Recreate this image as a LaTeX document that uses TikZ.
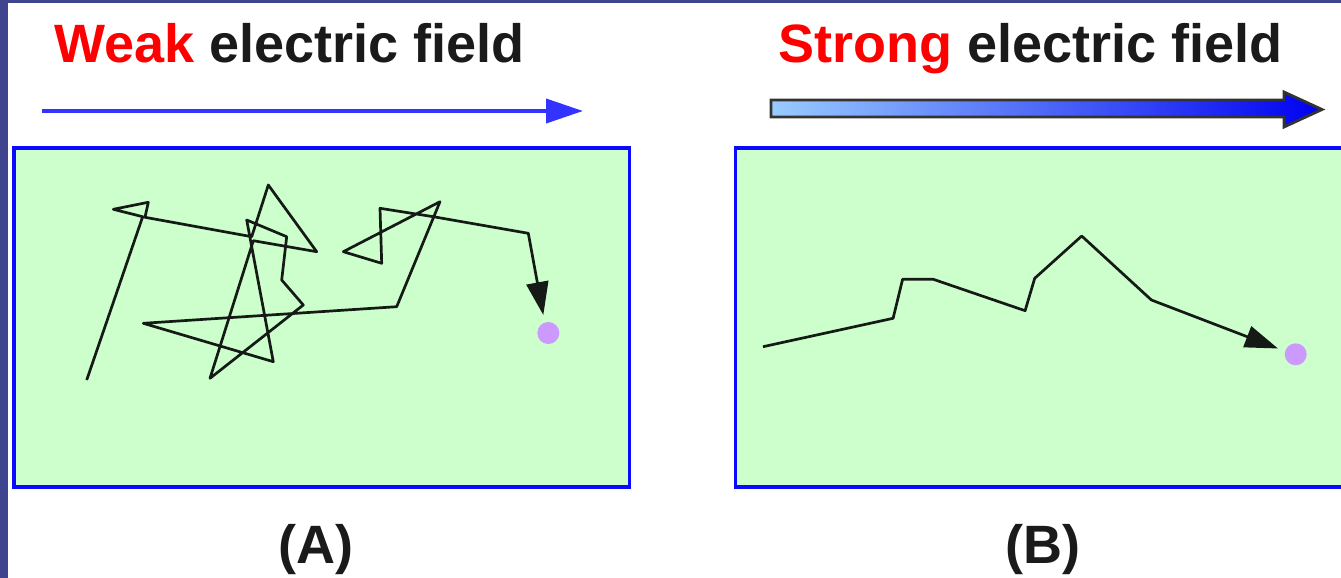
\documentclass[tikz,border=0pt]{standalone}
\usepackage{fontspec}
\setmainfont{Liberation Sans}
\usetikzlibrary{arrows.meta}

\definecolor{framecol}{RGB}{63,68,143}
\definecolor{panelfill}{RGB}{204,255,204}
\definecolor{panelline}{RGB}{10,10,255}
\definecolor{fieldblue}{RGB}{51,51,255}
\definecolor{walkcol}{RGB}{22,26,22}
\definecolor{ioncol}{RGB}{204,153,255}
\definecolor{lightfield}{RGB}{153,204,255}
\definecolor{midfield}{RGB}{85,115,255}
\definecolor{deepfield}{RGB}{0,0,240}
\definecolor{hot}{RGB}{255,0,0}
\definecolor{ink}{RGB}{26,26,26}

\begin{document}
\begin{tikzpicture}[x=1pt,y=-1pt,
  panel/.style={draw=panelline,line width=3.5pt,fill=panelfill},
  heading/.style={font=\bfseries\fontsize{54}{60}\selectfont,text=ink,inner sep=0pt,anchor=base west},
  caption/.style={font=\bfseries\fontsize{54}{60}\selectfont,text=ink,inner sep=0pt,anchor=base},
  walkline/.style={draw=walkcol,line width=2.7pt,line join=round,
    -{Triangle[length=33pt,width=22pt]}},
  ion/.style={circle,fill=ioncol,minimum size=22pt,inner sep=0pt},
  thinfield/.style={draw=fieldblue,line width=3.8pt,
    -{Triangle[length=37pt,width=24pt]}},
  fieldout/.style={draw=black!80,line width=2.8pt,line join=miter}
]
\path[use as bounding box] (0,0) rectangle (1341,578);
\begin{scope}
\clip (0,0) rectangle (1341,578);
\fill[white] (0,0) rectangle (1341,578);

% slide frame on the left and top edges
\fill[framecol] (0,0) rectangle (8,578);
\fill[framecol] (0,0) rectangle (1341,3.3);

% the two panels
\path[panel] (14,148) rectangle (629.5,487);
\path[panel] (735.5,148) rectangle (1360,487);

% headings
\node[heading] (ttlA) at (54,63) {\textcolor{hot}{Weak} electric field};
\node[heading] (ttlB) at (778,63) {\textcolor{hot}{Strong} electric field};

% weak field arrow
\coordinate (wfs) at (42,111);
\coordinate (wfe) at (583,111);
\draw[thinfield] (wfs) -- (wfe);

% strong field arrow: shaded body with dark outline
\shade[left color=lightfield,middle color=midfield,right color=deepfield]
  (771,100) -- (1284,100) -- (1284,92) -- (1322,109.5) -- (1284,127)
  -- (1284,117) -- (771,117) -- cycle;
\draw[fieldout]
  (771,100) -- (1284,100) -- (1284,92) -- (1322,109.5) -- (1284,127)
  -- (1284,117) -- (771,117) -- cycle;

% ions at the end of each walk
\node[ion] (ionA) at (548.3,333) {};
\node[ion] (ionB) at (1295.7,354.3) {};

% random walk, weak field
\coordinate (startA) at (86.7,380);
\coordinate (endA) at (543.3,315);
\draw[walkline] (startA) -- (142.7,216.7) -- (113.3,209.3) -- (148.3,202.3)
  -- (145,217.3) -- (251.7,236.7) -- (268.3,185) -- (316.7,251.7)
  -- (253.3,240.7) -- (210,378.3) -- (303.3,305) -- (281.7,280)
  -- (286.7,236.7) -- (246.7,220) -- (273.3,361.7) -- (143.3,323.3)
  -- (396.7,306.7) -- (440,201.7) -- (343.3,251.7) -- (381.7,263.3)
  -- (380,208.3) -- (433.3,216.7) -- (528.3,233.3) -- (endA);

% drift path, strong field
\coordinate (startB) at (763,346.7);
\coordinate (endB) at (1278,348.5);
\draw[walkline] (startB) -- (893.1,318.3) -- (902.6,279.3) -- (933.3,279.3)
  -- (1025.1,310.7) -- (1034.7,278.3) -- (1081.7,236) -- (1151.4,300)
  -- (endB);

% captions
\node[caption] (capA) at (316,563) {(A)};
\node[caption] (capB) at (1043,563) {(B)};
\end{scope}
\end{tikzpicture}
\end{document}
